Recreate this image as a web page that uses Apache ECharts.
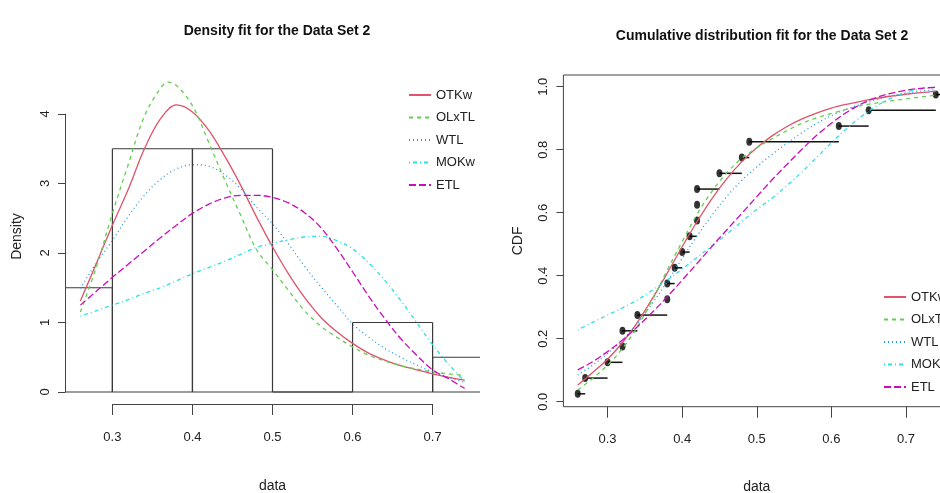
<!DOCTYPE html>
<html><head><meta charset="utf-8">
<script src="https://cdn.jsdelivr.net/npm/echarts@6/dist/echarts.min.js"></script>
<style>html,body{margin:0;padding:0;background:#fff}#c{width:940px;height:493px}</style>
</head><body><div id="c"></div>
<script>
// ---------- data ----------
const seriesNames = ['OTKw', 'OLxTL', 'WTL', 'MOKw', 'ETL'];
const xGrid = [0.26,0.28,0.30,0.32,0.34,0.36,0.38,0.40,0.42,0.44,0.46,0.48,0.50,0.52,0.54,0.56,0.58,0.60,0.62,0.64,0.66,0.68,0.70,0.72,0.74];
// OLxTL density read with an extra point at its peak
const xOLxTLDens = [0.26,0.28,0.30,0.32,0.34,0.36,0.37,0.38,0.40,0.42,0.44,0.46,0.48,0.50,0.52,0.54,0.56,0.58,0.60,0.62,0.64,0.66,0.68,0.70,0.72,0.74];

// fitted densities (left panel)
const densOTKw  = [1.31,1.85,2.40,2.92,3.50,3.93,4.13,4.03,3.77,3.40,2.98,2.52,2.09,1.70,1.36,1.08,0.87,0.70,0.56,0.46,0.38,0.32,0.26,0.21,0.17];
const densOLxTL = [1.15,1.80,2.57,3.28,3.97,4.37,4.46,4.41,4.12,3.60,3.06,2.55,2.05,1.76,1.46,1.17,0.95,0.79,0.65,0.53,0.45,0.38,0.33,0.29,0.26,0.24];
const densWTL   = [1.49,1.86,2.18,2.53,2.83,3.06,3.21,3.27,3.25,3.13,2.93,2.66,2.42,2.13,1.81,1.52,1.25,0.98,0.79,0.63,0.50,0.39,0.29,0.21,0.14];
const densMOKw  = [1.09,1.17,1.25,1.33,1.42,1.50,1.60,1.70,1.79,1.88,1.98,2.08,2.14,2.19,2.23,2.24,2.18,2.06,1.86,1.61,1.32,1.00,0.68,0.40,0.15];
const densETL   = [1.25,1.45,1.65,1.84,2.03,2.22,2.40,2.57,2.70,2.79,2.83,2.83,2.80,2.72,2.58,2.37,2.07,1.73,1.38,1.06,0.77,0.53,0.32,0.19,0.05];

// fitted CDFs (right panel)
const cdfOTKw  = [0.053,0.093,0.135,0.188,0.252,0.327,0.408,0.492,0.572,0.645,0.708,0.762,0.806,0.843,0.873,0.897,0.916,0.932,0.944,0.954,0.963,0.970,0.976,0.981,0.985];
const cdfOLxTL = [0.037,0.074,0.116,0.169,0.238,0.323,0.418,0.508,0.595,0.668,0.727,0.773,0.806,0.834,0.860,0.883,0.901,0.915,0.928,0.940,0.948,0.955,0.961,0.967,0.973];
const cdfWTL   = [0.085,0.116,0.153,0.196,0.249,0.312,0.381,0.455,0.526,0.592,0.652,0.703,0.745,0.784,0.820,0.853,0.883,0.908,0.928,0.945,0.959,0.971,0.979,0.986,0.991];
const cdfMOKw  = [0.228,0.252,0.275,0.298,0.323,0.354,0.386,0.421,0.458,0.495,0.532,0.572,0.610,0.645,0.685,0.728,0.775,0.822,0.866,0.905,0.938,0.964,0.982,0.993,0.998];
const cdfETL   = [0.101,0.127,0.159,0.196,0.238,0.284,0.333,0.386,0.439,0.493,0.546,0.598,0.651,0.703,0.752,0.800,0.845,0.884,0.918,0.945,0.965,0.979,0.989,0.995,0.998];

// histogram
const histBreaks  = [0.2,0.3,0.4,0.5,0.6,0.7,0.8];
const histDensity = [1.5,3.5,3.5,0,1.0,0.5];

// empirical CDF points
const dataSorted = [0.26,0.27,0.30,0.32,0.32,0.34,0.38,0.38,0.39,0.40,0.41,0.42,0.42,0.42,0.45,0.48,0.49,0.61,0.65,0.74];
const ecdfY      = [0.025,0.075,0.125,0.175,0.225,0.275,0.325,0.375,0.425,0.475,0.525,0.575,0.625,0.675,0.725,0.775,0.825,0.875,0.925,0.975];

const densX    = [xGrid, xOLxTLDens, xGrid, xGrid, xGrid];
const densSets = [densOTKw, densOLxTL, densWTL, densMOKw, densETL];
const cdfSets  = [cdfOTKw, cdfOLxTL, cdfWTL, cdfMOKw, cdfETL];

// ---------- styles ----------
const colors = ['#DF536B', '#61D04F', '#2297E6', '#28E2E5', '#CD0BBC'];
const dashes = ['solid', [4,4], [1,3], [1,3,4,3], [7,3]];
const FONT = "'Liberation Sans',Arial,sans-serif";
const AX = '#444';

// ---------- layout ----------
const XMIN = 0.2408, XMAX = 0.7592;
const L = {left: 65, right: 480, top: 69, bottom: 404, y0: 392, y4: 114};
const Lppu = (L.y0 - L.y4) / 4;
const LYMIN = -(L.bottom - L.y0) / Lppu, LYMAX = (L.y0 - L.top) / Lppu;
const Lppx = (L.right - L.left) / (XMAX - XMIN);
const R = {left: 563.4, top: 75, bottom: 406.7, yz: 401.7, y1: 86.7};
const Rppx = 746;
const Rwidth = (XMAX - XMIN) * Rppx;
const Rppu = R.yz - R.y1;
const RYMIN = -(R.bottom - R.yz) / Rppu, RYMAX = 1 + (R.y1 - R.top) / Rppu;

const tickStyle = {fontFamily: FONT, fontSize: 13, color: '#222'};
const nameStyle = {fontFamily: FONT, fontSize: 14, color: '#222'};

const chart = echarts.init(document.getElementById('c'), null, {renderer: 'canvas'});

const grids = [
  {left: L.left, top: L.top, width: L.right - L.left, height: L.bottom - L.top, outerBoundsMode: 'none'},
  {left: L.left + (0.3 - XMIN) * Lppx, top: L.bottom - 10, width: 0.4 * Lppx, height: 10, outerBoundsMode: 'none'},
  {left: L.left, top: L.y4, width: 10, height: L.y0 - L.y4, outerBoundsMode: 'none'},
  {left: R.left, top: R.top, width: Rwidth, height: R.bottom - R.top, show: true, borderColor: AX, borderWidth: 1, backgroundColor: 'transparent', outerBoundsMode: 'none'},
  {left: R.left + (0.3 - XMIN) * Rppx, top: R.bottom - 10, width: 0.4 * Rppx, height: 10, outerBoundsMode: 'none'},
  {left: R.left, top: R.y1, width: 10, height: R.yz - R.y1, outerBoundsMode: 'none'}
];

const hiddenX = (g) => ({type: 'value', gridIndex: g, show: false, min: 0, max: 1});
const hiddenY = (g) => ({type: 'value', gridIndex: g, show: false, min: 0, max: 1});
const nameOnly = {axisLine: {show: false}, axisTick: {show: false}, axisLabel: {show: false}, splitLine: {show: false}};

const xAxes = [
  Object.assign({type: 'value', gridIndex: 0, min: XMIN, max: XMAX, name: 'data', nameLocation: 'middle', nameGap: 75,
    nameTextStyle: nameStyle}, nameOnly),
  {type: 'value', gridIndex: 1, min: 0.3, max: 0.7, interval: 0.1, position: 'bottom',
    axisLine: {show: true, lineStyle: {color: AX, width: 1}}, axisTick: {show: true, length: 11, lineStyle: {color: AX}},
    axisLabel: Object.assign({margin: 27, formatter: v => v.toFixed(1)}, tickStyle), splitLine: {show: false}},
  hiddenX(2),
  Object.assign({type: 'value', gridIndex: 3, min: XMIN, max: XMAX, name: 'data', nameLocation: 'middle', nameGap: 73,
    nameTextStyle: nameStyle}, nameOnly),
  {type: 'value', gridIndex: 4, min: 0.3, max: 0.7, interval: 0.1, position: 'bottom',
    axisLine: {show: false}, axisTick: {show: true, length: 11, lineStyle: {color: AX}},
    axisLabel: Object.assign({margin: 26, formatter: v => v.toFixed(1)}, tickStyle), splitLine: {show: false}},
  hiddenX(5)
];

const yAxes = [
  Object.assign({type: 'value', gridIndex: 0, min: LYMIN, max: LYMAX, name: 'Density', nameLocation: 'middle', nameGap: 41,
    nameTextStyle: nameStyle}, nameOnly),
  hiddenY(1),
  {type: 'value', gridIndex: 2, min: 0, max: 4, interval: 1, position: 'left',
    axisLine: {show: true, lineStyle: {color: AX, width: 1}}, axisTick: {show: true, length: 7, lineStyle: {color: AX}},
    axisLabel: Object.assign({margin: 13, rotate: 90}, tickStyle), splitLine: {show: false}},
  Object.assign({type: 'value', gridIndex: 3, min: RYMIN, max: RYMAX, name: 'CDF', nameLocation: 'middle', nameGap: 38,
    nameTextStyle: nameStyle}, nameOnly),
  hiddenY(4),
  {type: 'value', gridIndex: 5, min: 0, max: 1, interval: 0.2, position: 'left',
    axisLine: {show: false}, axisTick: {show: true, length: 7, lineStyle: {color: AX}},
    axisLabel: Object.assign({margin: 13, rotate: 90, formatter: v => v.toFixed(1)}, tickStyle), splitLine: {show: false}}
];

const series = [];

// histogram (left panel)
const histData = histDensity.map((d, i) => [histBreaks[i], histBreaks[i + 1], d]);
series.push({
  type: 'custom', xAxisIndex: 0, yAxisIndex: 0, data: histData, silent: true,
  renderItem: function (params, api) {
    const x0 = api.value(0), x1 = api.value(1), h = api.value(2);
    const a = Math.max(x0, XMIN), b = Math.min(x1, XMAX);
    const pTL = api.coord([a, h]), pTR = api.coord([b, h]);
    const pBL = api.coord([a, 0]), pBR = api.coord([b, 0]);
    const st = {stroke: '#3a3a3a', lineWidth: 1.2, fill: null};
    const kids = [
      {type: 'line', shape: {x1: pTL[0], y1: pTL[1], x2: pTR[0], y2: pTR[1]}, style: st},
      {type: 'line', shape: {x1: pBL[0], y1: pBL[1], x2: pBR[0], y2: pBR[1]}, style: st}
    ];
    if (x0 >= XMIN) kids.push({type: 'line', shape: {x1: pTL[0], y1: pTL[1], x2: pBL[0], y2: pBL[1]}, style: st});
    if (x1 <= XMAX) kids.push({type: 'line', shape: {x1: pTR[0], y1: pTR[1], x2: pBR[0], y2: pBR[1]}, style: st});
    return {type: 'group', children: kids};
  }
});

// ECDF segments and points (right panel)
const segData = dataSorted.map((x, i) => {
  let nx = XMAX;
  for (let j = i + 1; j < dataSorted.length; j++) { if (dataSorted[j] > x) { nx = dataSorted[j]; break; } }
  if (i + 1 < dataSorted.length && dataSorted[i + 1] === x) nx = x;
  return [x, nx, ecdfY[i]];
});
series.push({
  type: 'custom', xAxisIndex: 3, yAxisIndex: 3, data: segData, silent: true,
  renderItem: function (params, api) {
    const p0 = api.coord([api.value(0), api.value(2)]);
    const p1 = api.coord([api.value(1), api.value(2)]);
    return {type: 'line', shape: {x1: p0[0], y1: p0[1], x2: p1[0], y2: p1[1]}, style: {stroke: '#111', lineWidth: 1.5}};
  }
});
series.push({
  type: 'scatter', xAxisIndex: 3, yAxisIndex: 3, symbol: 'circle', symbolSize: [6, 8],
  itemStyle: {color: '#000'}, data: dataSorted.map((x, i) => [x, ecdfY[i]]), silent: true
});

// fitted curves
seriesNames.forEach((nm, k) => {
  const ls = {color: colors[k], width: 1.3, type: dashes[k]};
  series.push({
    name: nm, type: 'line', xAxisIndex: 0, yAxisIndex: 0, showSymbol: false, symbol: 'none', smooth: 0.35,
    lineStyle: ls, itemStyle: {color: colors[k]}, data: densX[k].map((x, i) => [x, densSets[k][i]]), z: 3
  });
  series.push({
    name: nm, type: 'line', xAxisIndex: 3, yAxisIndex: 3, showSymbol: false, symbol: 'none', smooth: 0.35,
    lineStyle: ls, itemStyle: {color: colors[k]}, data: xGrid.map((x, i) => [x, cdfSets[k][i]]), z: 3
  });
});

const legendCommon = {
  orient: 'vertical', itemWidth: 22, itemHeight: 14, itemGap: 8.5, selectedMode: false,
  itemStyle: {opacity: 0},
  textStyle: {fontFamily: FONT, fontSize: 13, color: '#222', lineHeight: 14}, data: seriesNames, padding: 0
};

chart.setOption({
  animation: false,
  backgroundColor: '#fff',
  title: [
    {text: 'Density fit for the Data Set 2', left: 272, top: 19, textAlign: 'center',
      textStyle: {fontFamily: FONT, fontSize: 14, fontWeight: 'bold', color: '#111'}},
    {text: 'Cumulative distribution fit for the Data Set 2', left: 757, top: 24, textAlign: 'center',
      textStyle: {fontFamily: FONT, fontSize: 14, fontWeight: 'bold', color: '#111'}}
  ],
  legend: [
    Object.assign({left: 408, top: 88}, legendCommon),
    Object.assign({left: 883, top: 290}, legendCommon)
  ],
  grid: grids,
  xAxis: xAxes,
  yAxis: yAxes,
  series: series
});
</script>
</body></html>
